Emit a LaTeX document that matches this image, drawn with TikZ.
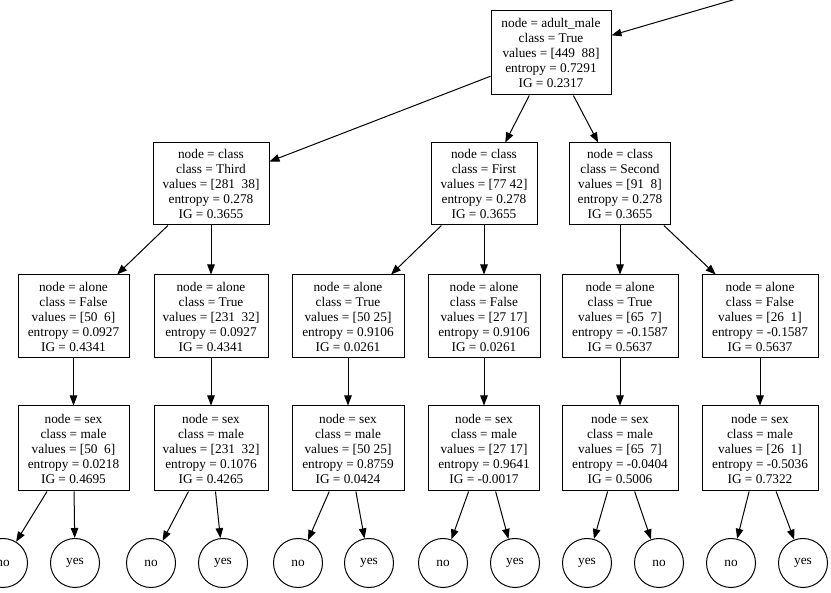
\documentclass[tikz,border=0pt]{standalone}
\usepackage{fontspec}
\setmainfont{Liberation Serif}
\usetikzlibrary{arrows.meta}
\tikzset{
  tbox/.style={draw=black, line width=1pt, rectangle, inner sep=0pt, align=center,
    font=\fontsize{13.3}{15}\selectfont},
  leaf/.style={draw=black, line width=1pt, circle, inner sep=0pt, minimum size=49pt,
    font=\fontsize{13.3}{15}\selectfont},
  edge/.style={line width=1pt, -{Triangle[length=10pt,width=7.5pt]}},
}
\begin{document}
\begin{tikzpicture}[x=1pt,y=-1pt]
\fill[white] (0,0) rectangle (831,593);
\clip (0,0) rectangle (831,593);
% level 1
\node[tbox, minimum width=120pt, minimum height=84pt] (root) at (551,53)
  {node = adult\_male\\class = True\\values = [449\ \ 88]\\entropy = 0.7291\\IG = 0.2317};
\coordinate (src) at (880,-43);
% level 2
\node[tbox, minimum width=116pt, minimum height=82pt] (c3) at (211,184)
  {node = class\\class = Third\\values = [281\ \ 38]\\entropy = 0.278\\IG = 0.3655};
\node[tbox, minimum width=106pt, minimum height=82pt] (c1) at (484,184)
  {node = class\\class = First\\values = [77 42]\\entropy = 0.278\\IG = 0.3655};
\node[tbox, minimum width=101pt, minimum height=82pt] (c2) at (620,184)
  {node = class\\class = Second\\values = [91\ \ 8]\\entropy = 0.278\\IG = 0.3655};
% level 3
\node[tbox, minimum width=111pt, minimum height=83pt] (a1) at (73.5,316.5)
  {node = alone\\class = False\\values = [50\ \ 6]\\entropy = 0.0927\\IG = 0.4341};
\node[tbox, minimum width=114pt, minimum height=83pt] (a2) at (211,316.5)
  {node = alone\\class = True\\values = [231\ \ 32]\\entropy = 0.0927\\IG = 0.4341};
\node[tbox, minimum width=112pt, minimum height=83pt] (a3) at (348,316.5)
  {node = alone\\class = True\\values = [50 25]\\entropy = 0.9106\\IG = 0.0261};
\node[tbox, minimum width=112pt, minimum height=83pt] (a4) at (484,316.5)
  {node = alone\\class = False\\values = [27 17]\\entropy = 0.9106\\IG = 0.0261};
\node[tbox, minimum width=116pt, minimum height=83pt] (a5) at (620,316.5)
  {node = alone\\class = True\\values = [65\ \ 7]\\entropy = -0.1587\\IG = 0.5637};
\node[tbox, minimum width=116pt, minimum height=83pt] (a6) at (760,316.5)
  {node = alone\\class = False\\values = [26\ \ 1]\\entropy = -0.1587\\IG = 0.5637};
% level 4
\node[tbox, minimum width=111pt, minimum height=85pt] (s1) at (73.5,448.5)
  {node = sex\\class = male\\values = [50\ \ 6]\\entropy = 0.0218\\IG = 0.4695};
\node[tbox, minimum width=114pt, minimum height=85pt] (s2) at (211,448.5)
  {node = sex\\class = male\\values = [231\ \ 32]\\entropy = 0.1076\\IG = 0.4265};
\node[tbox, minimum width=112pt, minimum height=85pt] (s3) at (348,448.5)
  {node = sex\\class = male\\values = [50 25]\\entropy = 0.8759\\IG = 0.0424};
\node[tbox, minimum width=111pt, minimum height=85pt] (s4) at (484,448.5)
  {node = sex\\class = male\\values = [27 17]\\entropy = 0.9641\\IG = -0.0017};
\node[tbox, minimum width=116pt, minimum height=85pt] (s5) at (620,448.5)
  {node = sex\\class = male\\values = [65\ \ 7]\\entropy = -0.0404\\IG = 0.5006};
\node[tbox, minimum width=116pt, minimum height=85pt] (s6) at (760,448.5)
  {node = sex\\class = male\\values = [26\ \ 1]\\entropy = -0.5036\\IG = 0.7322};
% leaves
\node[leaf] (l1) at (3,563) {no};
\node[leaf] (l2) at (75,563) {yes};
\node[leaf] (l3) at (151,563) {no};
\node[leaf] (l4) at (223,563) {yes};
\node[leaf] (l5) at (298,563) {no};
\node[leaf] (l6) at (369,563) {yes};
\node[leaf] (l7) at (443,563) {no};
\node[leaf] (l8) at (515,563) {yes};
\node[leaf] (l9) at (587,563) {yes};
\node[leaf] (l10) at (659,563) {no};
\node[leaf] (l11) at (731,563) {no};
\node[leaf] (l12) at (803,563) {yes};
% edges
\draw[edge] (src) -- (root);
\draw[edge] (root) -- (c3);
\draw[edge] (root) -- (c1);
\draw[edge] (root) -- (c2);
\draw[edge] (c3) -- (a1);
\draw[edge] (c3) -- (a2);
\draw[edge] (c1) -- (a3);
\draw[edge] (c1) -- (a4);
\draw[edge] (c2) -- (a5);
\draw[edge] (c2) -- (a6);
\draw[edge] (a1) -- (s1);
\draw[edge] (a2) -- (s2);
\draw[edge] (a3) -- (s3);
\draw[edge] (a4) -- (s4);
\draw[edge] (a5) -- (s5);
\draw[edge] (a6) -- (s6);
\draw[edge] (s1) -- (l1);
\draw[edge] (s1) -- (l2);
\draw[edge] (s2) -- (l3);
\draw[edge] (s2) -- (l4);
\draw[edge] (s3) -- (l5);
\draw[edge] (s3) -- (l6);
\draw[edge] (s4) -- (l7);
\draw[edge] (s4) -- (l8);
\draw[edge] (s5) -- (l9);
\draw[edge] (s5) -- (l10);
\draw[edge] (s6) -- (l11);
\draw[edge] (s6) -- (l12);
\end{tikzpicture}
\end{document}
